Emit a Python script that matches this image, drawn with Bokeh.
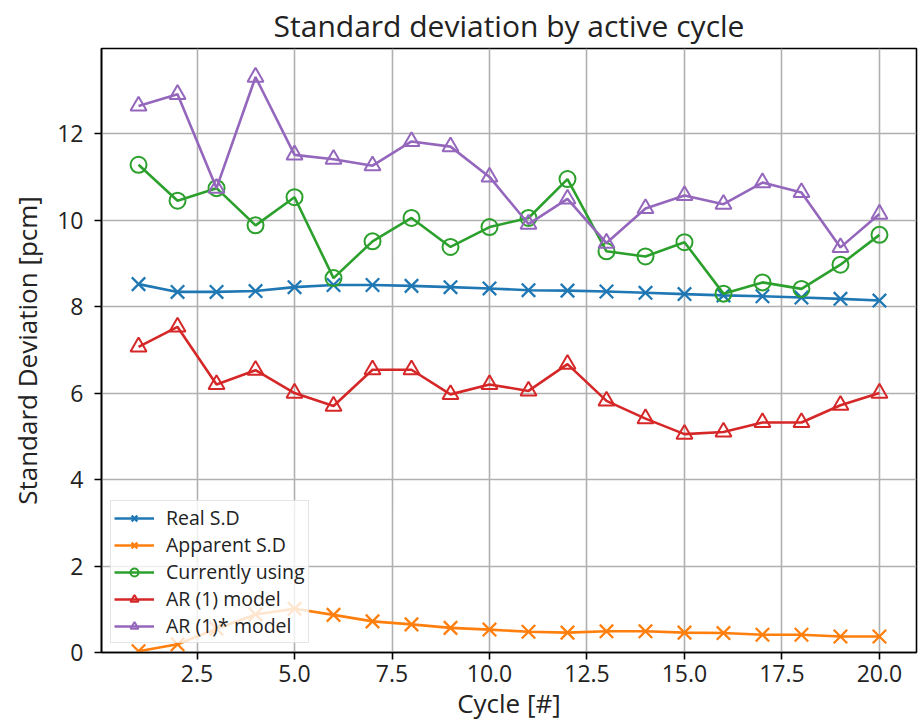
from bokeh.plotting import figure
from bokeh.models import Range1d, FixedTicker, PrintfTickFormatter, Legend
from bokeh.embed import file_html
from bokeh.resources import INLINE

cycles = list(range(1, 21))
real_sd = [8.52, 8.34, 8.34, 8.36, 8.45, 8.50, 8.50, 8.48, 8.45, 8.42,
           8.38, 8.37, 8.35, 8.32, 8.29, 8.26, 8.24, 8.21, 8.18, 8.14]
apparent_sd = [0.03, 0.19, 0.55, 0.88, 1.01, 0.87, 0.72, 0.65, 0.57, 0.53,
               0.48, 0.46, 0.49, 0.49, 0.46, 0.45, 0.41, 0.41, 0.37, 0.37]
currently_using = [11.28, 10.45, 10.74, 9.88, 10.53, 8.66, 9.51, 10.05, 9.38, 9.84,
                   10.05, 10.95, 9.28, 9.16, 9.49, 8.30, 8.56, 8.41, 8.97, 9.66]
ar1 = [7.07, 7.53, 6.20, 6.53, 6.00, 5.70, 6.54, 6.54, 5.97, 6.20,
       6.05, 6.67, 5.82, 5.41, 5.05, 5.10, 5.32, 5.32, 5.72, 6.00]
ar1_star = [12.64, 12.91, 10.74, 13.31, 11.51, 11.41, 11.26, 11.82, 11.70, 11.00,
            9.91, 10.49, 9.47, 10.27, 10.57, 10.37, 10.87, 10.64, 9.37, 10.14]

title_text = "Standard deviation by active cycle"
series_names = ["Real S.D", "Apparent S.D", "Currently using", "AR (1) model", "AR (1)* model"]
x_ticks = [2.5, 5.0, 7.5, 10.0, 12.5, 15.0, 17.5, 20.0]
y_ticks = [0, 2, 4, 6, 8, 10, 12]

FONT = "Open Sans"

p = figure(width=922, height=723, output_backend="svg", toolbar_location=None,
           x_range=Range1d(0.05, 20.95), y_range=Range1d(0.0, 13.97),
           title=title_text,
           min_border_left=101, min_border_right=6, min_border_top=47, min_border_bottom=71)

p.title.align = "center"
p.title.text_font = FONT
p.title.text_font_size = "30px"
p.title.text_font_style = "normal"
p.title.text_color = "#222222"
p.title.text_line_height = 1.0
p.title.standoff = 5

p.xaxis.axis_label = "Cycle [#]"
p.yaxis.axis_label = "Standard Deviation [pcm]"
for ax in (p.xaxis, p.yaxis):
    ax.axis_label_text_font = FONT
    ax.axis_label_text_font_size = "26px"
    ax.axis_label_text_font_style = "normal"
    ax.axis_label_text_color = "#222222"
    ax.major_label_text_font = FONT
    ax.major_label_text_font_size = "23px"
    ax.major_label_text_color = "#222222"
    ax.axis_line_color = "black"
    ax.axis_line_width = 1.6
    ax.major_tick_line_color = "black"
    ax.major_tick_line_width = 1.6
    ax.major_tick_out = 7
    ax.major_tick_in = 0
    ax.minor_tick_out = 0
    ax.minor_tick_in = 0
p.xaxis.ticker = FixedTicker(ticks=x_ticks)
p.yaxis.ticker = FixedTicker(ticks=y_ticks)
p.xaxis.formatter = PrintfTickFormatter(format="%.1f")
p.yaxis.formatter = PrintfTickFormatter(format="%d")
p.xaxis.major_label_standoff = 5
p.yaxis.major_label_standoff = 11
p.xaxis.axis_label_standoff = 0
p.yaxis.axis_label_standoff = 9

p.xgrid.grid_line_color = "#b0b0b0"
p.ygrid.grid_line_color = "#b0b0b0"
p.xgrid.grid_line_width = 1.6
p.ygrid.grid_line_width = 1.6
p.outline_line_color = "black"
p.outline_line_width = 1.6
p.background_fill_color = "white"
p.border_fill_color = "white"

colors = ["#1f77b4", "#ff7f0e", "#2ca02c", "#d62728", "#9467bd"]
markers = ["x", "x", "circle", "triangle", "triangle"]
data = [real_sd, apparent_sd, currently_using, ar1, ar1_star]

legend_items = []
for name, col, mk, ys in zip(series_names, colors, markers, data):
    r1 = p.line(cycles, ys, line_color=col, line_width=2.6)
    if mk == "x":
        r2 = p.scatter(cycles, ys, marker="x", size=19, line_color=col, line_width=2.3)
    else:
        r2 = p.scatter(cycles, ys, marker=mk, size=16, line_color=col, line_width=2,
                       fill_alpha=0)
    legend_items.append((name, [r1, r2]))

legend = Legend(items=legend_items, location="bottom_left")
legend.label_text_font = FONT
legend.label_text_font_size = "19.5px"
legend.label_text_color = "#222222"
legend.border_line_color = "#cccccc"
legend.border_line_width = 1.5
legend.background_fill_alpha = 0.8
legend.margin = 9
legend.padding = 3
legend.spacing = 0
legend.glyph_width = 40
legend.label_standoff = 12
legend.label_height = 20
legend.glyph_height = 20
p.add_layout(legend)

open("out.html", "w").write(file_html(p, INLINE))
